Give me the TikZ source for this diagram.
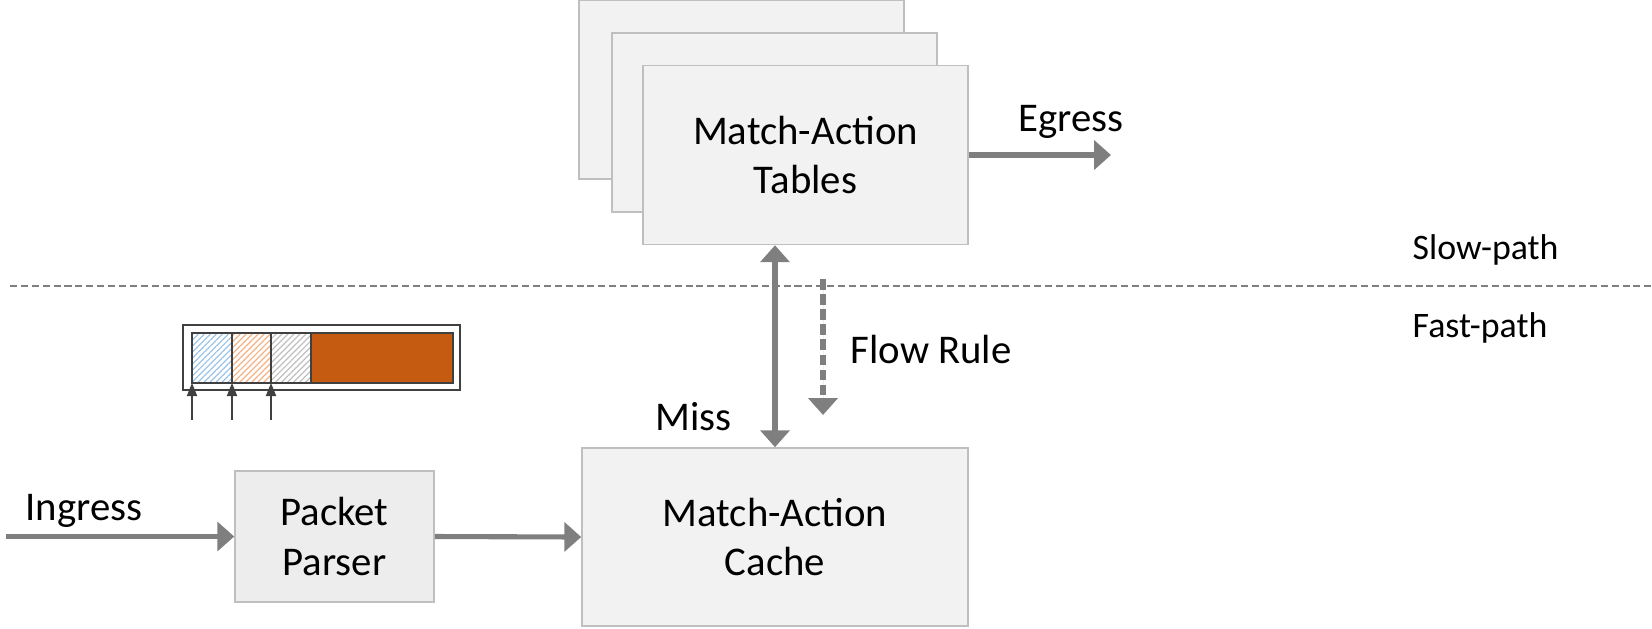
\documentclass[tikz,border=0pt]{standalone}
\usepackage{fontspec}
\setmainfont{Carlito}
\usetikzlibrary{arrows.meta,patterns.meta}
\definecolor{boxfill}{HTML}{F2F2F2}
\definecolor{parserfill}{HTML}{EDEDED}
\definecolor{boxline}{HTML}{BFBFBF}
\definecolor{arrowgray}{HTML}{7F7F7F}
\definecolor{bardark}{HTML}{404040}
\definecolor{payload}{HTML}{C55A11}
\definecolor{hatchblue}{HTML}{9DC3E6}
\definecolor{hatchorange}{HTML}{F4B183}
\definecolor{hatchgray}{HTML}{BFBFBF}
\newcommand\mainsize{\fontsize{11.6}{14.2}\selectfont}
\newcommand\pathsize{\fontsize{10.2}{12}\selectfont}

\begin{document}
\begin{tikzpicture}[
    >={Triangle[length=4.8pt,width=8.2pt]},
    block/.style={draw=boxline, fill=boxfill, line width=0.45pt, inner sep=0pt, align=center, font=\mainsize},
    flow/.style={->, draw=arrowgray, fill=arrowgray, line width=1.45pt},
    pointer/.style={-{Triangle[length=3.7pt,width=2.9pt]}, draw=bardark, fill=bardark, line width=0.35pt},
    barline/.style={draw=bardark, line width=0.6pt},
    lbl/.style={anchor=base west, inner sep=0pt, font=\mainsize},
  ]
    \useasboundingbox (0, 0) rectangle (16.52, 6.28);

    % stacked tables
    \node[block, minimum width=3.25cm, minimum height=1.79cm] (tab3) at (7.415, 5.385) {};
    \node[block, minimum width=3.25cm, minimum height=1.79cm] (tab2) at (7.745, 5.055) {};
    \node[block, minimum width=3.25cm, minimum height=1.79cm] (tables) at (8.055, 4.73) {Match-Action\\Tables};

    \node[block, minimum width=3.86cm, minimum height=1.78cm] (cache) at (7.75, 0.91) {Match-Action\\Cache};
    \node[block, fill=parserfill, minimum width=1.99cm, minimum height=1.31cm] (parser) at (3.345, 0.915) {Packet\\Parser};

    % slow / fast separator
    \coordinate (sepL) at (0.10, 3.42);
    \coordinate (sepR) at (16.52, 3.42);
    \draw[arrowgray, line width=0.4pt, dash pattern=on 2pt off 1.1pt] (sepL) -- (sepR);
    \node[lbl, font=\pathsize] (slowlbl) at (14.12, 3.69) {Slow-path};
    \node[lbl, font=\pathsize] (fastlbl) at (14.12, 2.91) {Fast-path};

    % connectors
    \coordinate (ingress) at (0.06, 0.915);
    \coordinate (egress) at (11.11, 4.73);
    \draw[flow] (ingress) -- (parser.west);
    \draw[flow] (parser.east) -- (cache.west);
    \draw[flow] (tables.east) -- (egress);
    \draw[flow, <->] (cache.north |- tables.south) -- (cache.north);
    \coordinate (rule) at (8.23, 3.49);
    \coordinate (ruleend) at (8.23, 2.13);
    \draw[flow, dash pattern=on 3pt off 1.3pt] (rule) -- (ruleend);

    \node[lbl] (inlbl) at (0.25, 1.08) {Ingress};
    \node[lbl] (outlbl) at (10.18, 4.97) {Egress};
    \node[lbl] (misslbl) at (6.55, 1.98) {Miss};
    \node[lbl] (rulelbl) at (8.50, 2.65) {Flow Rule};

    % packet header fields
    \draw[barline] (1.83, 2.38) rectangle (4.60, 3.03);
    \foreach \xa/\xb/\c in {1.92/2.32/hatchblue, 2.32/2.71/hatchorange, 2.71/3.11/hatchgray}
        \path[pattern={Lines[angle=45, distance=1.2pt, line width=0.35pt]}, pattern color=\c] (\xa, 2.45) rectangle (\xb, 2.95);
    \fill[payload] (3.11, 2.45) rectangle (4.53, 2.95);
    \draw[barline] (1.92, 2.45) rectangle (4.53, 2.95);
    \foreach \x in {2.32, 2.71, 3.11}
        \draw[barline] (\x, 2.45) -- (\x, 2.95);
    \foreach \x [count=\i] in {1.92, 2.32, 2.71} {
        \coordinate (p\i) at (\x, 2.08);
        \coordinate (f\i) at (\x, 2.45);
        \draw[pointer] (p\i) -- (f\i);
    }
\end{tikzpicture}
\end{document}
